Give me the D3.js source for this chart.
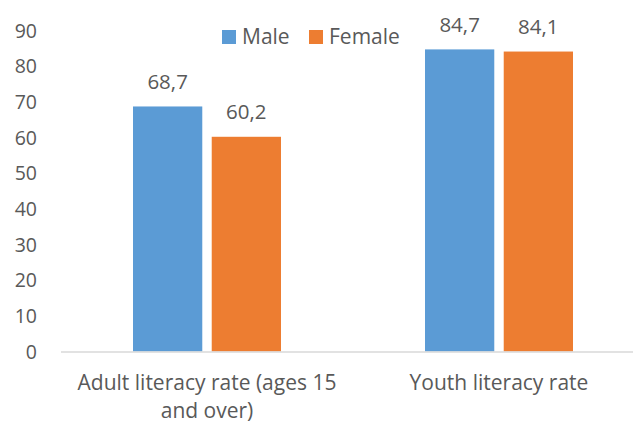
<!DOCTYPE html>
<html>
<head>
<meta charset="utf-8">
<script src="https://cdn.jsdelivr.net/npm/d3@7"></script>
<style>
  body { margin: 0; background: #fff; overflow: hidden; }
  text { font-family: "Open Sans", sans-serif; fill: #595959; }
</style>
</head>
<body>
<div id="chart"></div>
<script>
var categories = ["Adult literacy rate (ages 15|and over)", "Youth literacy rate"];
var seriesNames = ["Male", "Female"];
var maleValues = [68.7, 84.7];
var femaleValues = [60.2, 84.1];
var yTicks = [0, 10, 20, 30, 40, 50, 60, 70, 80, 90];

var colors = ["#5B9BD5", "#ED7D31"];
var numSize = 19.5;
var labelSize = 21;

var svg = d3.select("#chart").append("svg")
  .attr("width", 633).attr("height", 421);

// plot area runs past the right edge (reference is cropped)
var x = d3.scaleBand()
  .domain(categories)
  .range([61, 645]);

var x1 = d3.scaleBand()
  .domain(seriesNames)
  .range([0, 148])
  .paddingInner(0.12);

var y = d3.scaleLinear()
  .domain([0, 90])
  .range([351.5, 30.5]);

var data = categories.map(function(c, i) {
  return { cat: c, vals: [maleValues[i], femaleValues[i]] };
});

// y axis labels only
var yAxis = svg.append("g")
  .attr("transform", "translate(37,0)")
  .call(d3.axisLeft(y).tickValues(yTicks).tickSize(0).tickPadding(0));
yAxis.select(".domain").remove();
yAxis.selectAll("text")
  .attr("font-size", numSize)
  .attr("font-family", null)
  .attr("fill", null)
  .attr("dy", "0.35em");

// bars
var groups = svg.append("g").selectAll("g")
  .data(data)
  .enter().append("g")
  .attr("transform", function(d) { return "translate(" + (x(d.cat) + x.bandwidth() / 2 - 74) + ",0)"; });

groups.selectAll("rect")
  .data(function(d) { return d.vals.map(function(v, j) { return { key: seriesNames[j], v: v, j: j }; }); })
  .enter().append("rect")
  .attr("x", function(d) { return x1(d.key); })
  .attr("y", function(d) { return y(d.v); })
  .attr("width", x1.bandwidth())
  .attr("height", function(d) { return y(0) - y(d.v); })
  .attr("fill", function(d) { return colors[d.j]; });

groups.selectAll("text.val")
  .data(function(d) { return d.vals.map(function(v, j) { return { key: seriesNames[j], v: v }; }); })
  .enter().append("text")
  .attr("class", "val")
  .attr("x", function(d) { return x1(d.key) + x1.bandwidth() / 2; })
  .attr("y", function(d) { return y(d.v) - 25; })
  .attr("dy", "0.35em")
  .attr("text-anchor", "middle")
  .attr("font-size", 20.5)
  .text(function(d) { return d3.format(".1f")(d.v).replace(".", ","); });

// x axis baseline
svg.append("line")
  .attr("x1", 61).attr("x2", 645)
  .attr("y1", y(0) + 0.5).attr("y2", y(0) + 0.5)
  .attr("stroke", "#D9D9D9")
  .attr("stroke-width", 1.5);

// category labels
var catLabels = svg.append("g").selectAll("text")
  .data(categories)
  .enter().append("text")
  .attr("x", function(d) { return x(d) + x.bandwidth() / 2; })
  .attr("y", 383)
  .attr("text-anchor", "middle")
  .attr("font-size", labelSize);

catLabels.selectAll("tspan")
  .data(function(d) { return d.split("|"); })
  .enter().append("tspan")
  .attr("x", function() { return this.parentNode.getAttribute("x"); })
  .attr("dy", function(d, i) { return i === 0 ? "0.35em" : "1.33em"; })
  .text(function(d) { return d; });

// legend
var legend = svg.append("g").selectAll("g")
  .data(seriesNames)
  .enter().append("g")
  .attr("transform", function(d, i) { return "translate(" + (i === 0 ? 222 : 309) + ",30)"; });

legend.append("rect")
  .attr("width", 14).attr("height", 14)
  .attr("fill", function(d, i) { return colors[i]; });

legend.append("text")
  .attr("x", 20)
  .attr("y", 7)
  .attr("dy", "0.35em")
  .attr("font-size", labelSize)
  .text(function(d) { return d; });
</script>
</body>
</html>
